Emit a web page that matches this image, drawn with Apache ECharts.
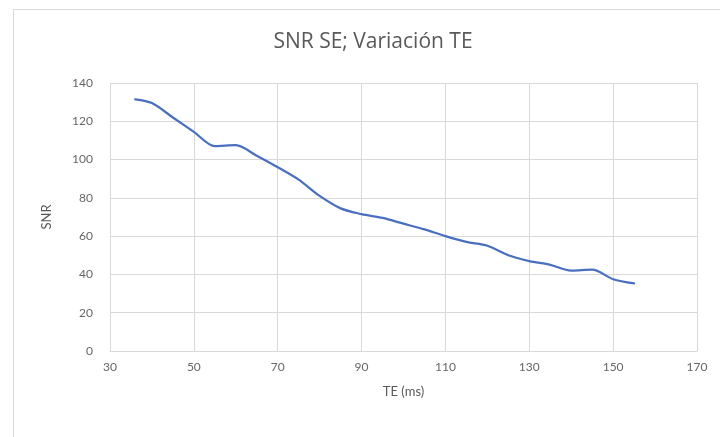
<!DOCTYPE html>
<html>
<head>
<meta charset="utf-8">
<script src="https://cdn.jsdelivr.net/npm/echarts@6/dist/echarts.min.js"></script>
<style>
html,body{margin:0;padding:0;background:#fff;}
#chart{width:720px;height:437px;}
</style>
</head>
<body>
<div id="chart"></div>
<script>
var titleText = "SNR SE; Variación TE";
var xName = "TE (ms)";
var yName = "SNR";
var teValues = [36, 40, 45, 50, 55, 60, 65, 70, 75, 80, 85, 90, 95, 100, 105, 110, 115, 120, 125, 130, 135, 140, 145, 150, 155];
var snrValues = [131.5, 129.5, 122, 114.5, 107, 107.5, 102, 96, 89.5, 81, 74.5, 71.5, 69.5, 66.5, 63.5, 60, 57, 55, 50, 47, 45, 42, 42.5, 37.5, 35.3];
var xMin = 30, xMax = 170, xStep = 20;
var yMin = 0, yMax = 140, yStep = 20;

var points = teValues.map(function (t, i) { return [t, snrValues[i]]; });
var chart = echarts.init(document.getElementById('chart'), null, {renderer: 'canvas'});
var font = 'Lato, "Open Sans", sans-serif';
chart.setOption({
  animation: false,
  backgroundColor: '#ffffff',
  graphic: [{
    type: 'rect', left: 11, top: 7, silent: true,
    shape: {x: 0, y: 0, width: 740, height: 460},
    style: {fill: 'none', stroke: '#d9d9d9', lineWidth: 1}
  }, {
    type: 'text', x: 373, y: 42, silent: true,
    style: {
      text: titleText, fill: '#595959',
      font: '21px "Open Sans", sans-serif',
      textAlign: 'center', textVerticalAlign: 'middle'
    }
  }],
  grid: {left: 110, right: 23, top: 83, bottom: 86},
  xAxis: {
    type: 'value', min: xMin, max: xMax, interval: xStep,
    name: xName, nameLocation: 'middle', nameGap: 34,
    nameTextStyle: {fontFamily: font, fontSize: 13, color: '#595959'},
    axisLine: {show: true, lineStyle: {color: '#d9d9d9', width: 1}},
    axisTick: {show: false},
    axisLabel: {fontFamily: font, fontSize: 12, color: '#666666', margin: 10},
    splitLine: {show: true, lineStyle: {color: '#d9d9d9', width: 1}}
  },
  yAxis: {
    type: 'value', min: yMin, max: yMax, interval: yStep,
    name: yName, nameLocation: 'middle', nameGap: 57,
    nameTextStyle: {fontFamily: font, fontSize: 13, color: '#595959'},
    axisLine: {show: false},
    axisTick: {show: false},
    axisLabel: {fontFamily: font, fontSize: 12, color: '#666666', margin: 17},
    splitLine: {show: true, lineStyle: {color: '#d9d9d9', width: 1}}
  },
  series: [{
    type: 'line', data: points, smooth: 0.3, showSymbol: false,
    lineStyle: {color: '#4a6fbf', width: 2.25, cap: 'round', join: 'round'}
  }]
});
</script>
</body>
</html>
